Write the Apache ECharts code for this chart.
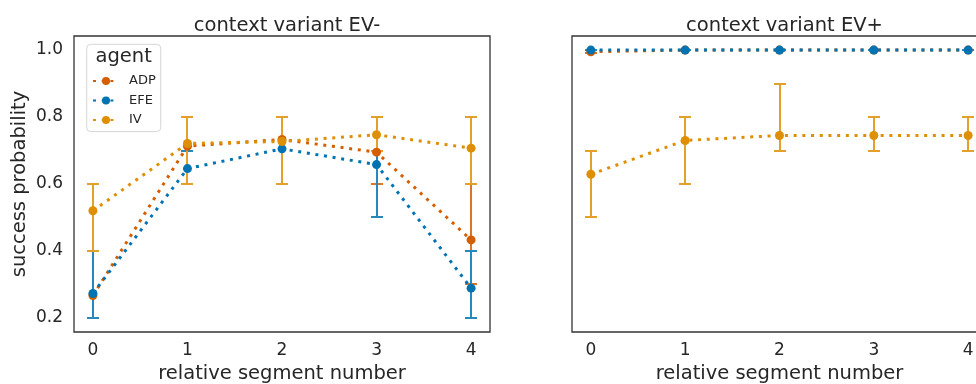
<!DOCTYPE html>
<html>
<head>
<meta charset="utf-8">
<script src="https://cdn.jsdelivr.net/npm/echarts@6/dist/echarts.min.js"></script>
<style>html,body{margin:0;padding:0;background:#fff;}#c{width:976px;height:384px;}</style>
</head>
<body>
<div id="c"></div>
<script>
// ---- data ----
const segments = [0, 1, 2, 3, 4];
const agents = ['ADP', 'EFE', 'IV'];
const colors = { ADP: '#d55e00', EFE: '#0173b2', IV: '#de8f05' };
const errColors = { ADP: '#db7626', EFE: '#2788bd', IV: '#e3a02a' };
const panelTitles = ['context variant EV-', 'context variant EV+'];

// panel 0: EV-
const evMinus_ADP = [0.267, 0.713, 0.733, 0.695, 0.433];
const evMinus_EFE = [0.273, 0.646, 0.705, 0.658, 0.289];
const evMinus_IV  = [0.520, 0.721, 0.727, 0.747, 0.707];
const evMinus_ADP_lo = [0.2, 0.6, 0.6, 0.6, 0.3];
const evMinus_ADP_hi = [0.4, 0.8, 0.8, 0.8, 0.6];
const evMinus_EFE_lo = [0.2, 0.6, 0.6, 0.5, 0.2];
const evMinus_EFE_hi = [0.4, 0.7, 0.8, 0.8, 0.4];
const evMinus_IV_lo  = [0.4, 0.6, 0.6, 0.7, 0.6];
const evMinus_IV_hi  = [0.6, 0.8, 0.8, 0.8, 0.8];

// panel 1: EV+
const evPlus_ADP = [0.995, 1.0, 1.0, 1.0, 1.0];
const evPlus_EFE = [1.0, 1.0, 1.0, 1.0, 1.0];
const evPlus_IV  = [0.629, 0.730, 0.745, 0.745, 0.745];
const evPlus_ADP_lo = [0.99, 1.0, 1.0, 1.0, 1.0];
const evPlus_ADP_hi = [1.0, 1.0, 1.0, 1.0, 1.0];
const evPlus_EFE_lo = [1.0, 1.0, 1.0, 1.0, 1.0];
const evPlus_EFE_hi = [1.0, 1.0, 1.0, 1.0, 1.0];
const evPlus_IV_lo  = [0.5, 0.6, 0.7, 0.7, 0.7];
const evPlus_IV_hi  = [0.7, 0.8, 0.9, 0.8, 0.8];

const yTicks = [0.2, 0.4, 0.6, 0.8, 1.0];

const panels = [
  { mean: { ADP: evMinus_ADP, EFE: evMinus_EFE, IV: evMinus_IV },
    lo: { ADP: evMinus_ADP_lo, EFE: evMinus_EFE_lo, IV: evMinus_IV_lo },
    hi: { ADP: evMinus_ADP_hi, EFE: evMinus_EFE_hi, IV: evMinus_IV_hi } },
  { mean: { ADP: evPlus_ADP, EFE: evPlus_EFE, IV: evPlus_IV },
    lo: { ADP: evPlus_ADP_lo, EFE: evPlus_EFE_lo, IV: evPlus_IV_lo },
    hi: { ADP: evPlus_ADP_hi, EFE: evPlus_EFE_hi, IV: evPlus_IV_hi } }
];

// ---- chart ----
const FONT = 'DejaVu Sans';
const TXT = '#262626';
const chart = echarts.init(document.getElementById('c'), null, { renderer: 'canvas' });

const grids = [
  { left: 74, width: 416, top: 36, height: 296 },
  { left: 572, width: 415, top: 36, height: 296 }
].map(g => Object.assign(g, { show: true, borderColor: '#333333', borderWidth: 1.3, backgroundColor: '#ffffff', containLabel: false, outerBoundsMode: 'none' }));

const xAxes = grids.map((g, i) => ({
  type: 'value', gridIndex: i, min: -0.2, max: 4.2,
  name: 'relative segment number', nameLocation: 'middle', nameGap: 31,
  nameTextStyle: { fontFamily: FONT, fontSize: 19.5, color: TXT },
  axisLine: { show: false }, axisTick: { show: false }, splitLine: { show: false },
  axisLabel: {
    fontFamily: FONT, fontSize: 17, color: TXT, margin: 10,
    showMinLabel: true, showMaxLabel: true,
    formatter: v => (segments.some(s => Math.abs(s - v) < 1e-6) ? String(Math.round(v)) : '')
  }
}));

const yAxes = grids.map((g, i) => ({
  type: 'value', gridIndex: i, min: 0.158, max: 1.042,
  name: i === 0 ? 'success probability' : '', nameLocation: 'middle', nameGap: 44,
  nameTextStyle: { fontFamily: FONT, fontSize: 19.5, color: TXT },
  axisLine: { show: false }, axisTick: { show: false }, splitLine: { show: false },
  axisLabel: {
    show: i === 0, fontFamily: FONT, fontSize: 17, color: TXT, margin: 11,
    formatter: v => (yTicks.some(t => Math.abs(t - v) < 1e-6) ? v.toFixed(1) : '')
  }
}));

const series = [];
panels.forEach((p, pi) => {
  agents.forEach(a => {
    const col = errColors[a];
    series.push({
      type: 'custom', name: a + ' error', xAxisIndex: pi, yAxisIndex: pi,
      encode: { x: 0, y: [1, 2] }, silent: true, z: 2,
      data: segments.map((s, k) => [s, p.lo[a][k], p.hi[a][k]]),
      renderItem: (params, api) => {
        const x = api.value(0), lo = api.value(1), hi = api.value(2);
        const a0 = api.coord([x, lo]), a1 = api.coord([x, hi]);
        const px = Math.round(a0[0]), y0 = Math.round(a0[1]), y1 = Math.round(a1[1]);
        const cw = 6;
        const st = { stroke: col, lineWidth: 2 };
        return { type: 'group', children: [
          { type: 'line', shape: { x1: px, y1: y0, x2: px, y2: y1 }, style: st },
          { type: 'line', shape: { x1: px - cw, y1: y0, x2: px + cw, y2: y0 }, style: st },
          { type: 'line', shape: { x1: px - cw, y1: y1, x2: px + cw, y2: y1 }, style: st }
        ]};
      }
    });
  });
});
panels.forEach((p, pi) => {
  agents.forEach(a => {
    const col = colors[a];
    series.push({
      type: 'line', name: a, xAxisIndex: pi, yAxisIndex: pi, z: 3,
      data: segments.map((s, k) => [s, p.mean[a][k]]),
      symbol: 'circle', symbolSize: 9, showSymbol: true,
      itemStyle: { color: col, borderWidth: 0 },
      lineStyle: { color: col, width: 3, type: [3, 5.7], cap: 'butt' },
      emphasis: { disabled: true }
    });
  });
});

chart.setOption({
  animation: false,
  backgroundColor: '#ffffff',
  title: panelTitles.map((t, i) => ({
    text: t, left: i === 0 ? 282 : 779.5, top: 11, textAlign: 'center',
    textStyle: { fontFamily: FONT, fontSize: 19.5, fontWeight: 'normal', color: TXT }
  })),
  grid: grids,
  xAxis: xAxes,
  yAxis: yAxes,
  legend: {
    data: agents, orient: 'vertical', left: 86.7, top: 44.3,
    padding: [30.1, 5, 5, 5.3], itemWidth: 26, itemHeight: 10, itemGap: 6.6,
    backgroundColor: 'rgba(255,255,255,0.85)', borderColor: '#d6d6d6', borderWidth: 1, borderRadius: 4,
    textStyle: { fontFamily: FONT, fontSize: 13, color: TXT, padding: [0, 0, 0, 5] },
    selectedMode: false
  },
  graphic: [{
    type: 'text', left: 123.5 - 28, top: 47, z: 100,
    style: { text: 'agent', fontFamily: FONT, fontSize: 19.5, fill: TXT }
  }],
  series: series
});
</script>
</body>
</html>
